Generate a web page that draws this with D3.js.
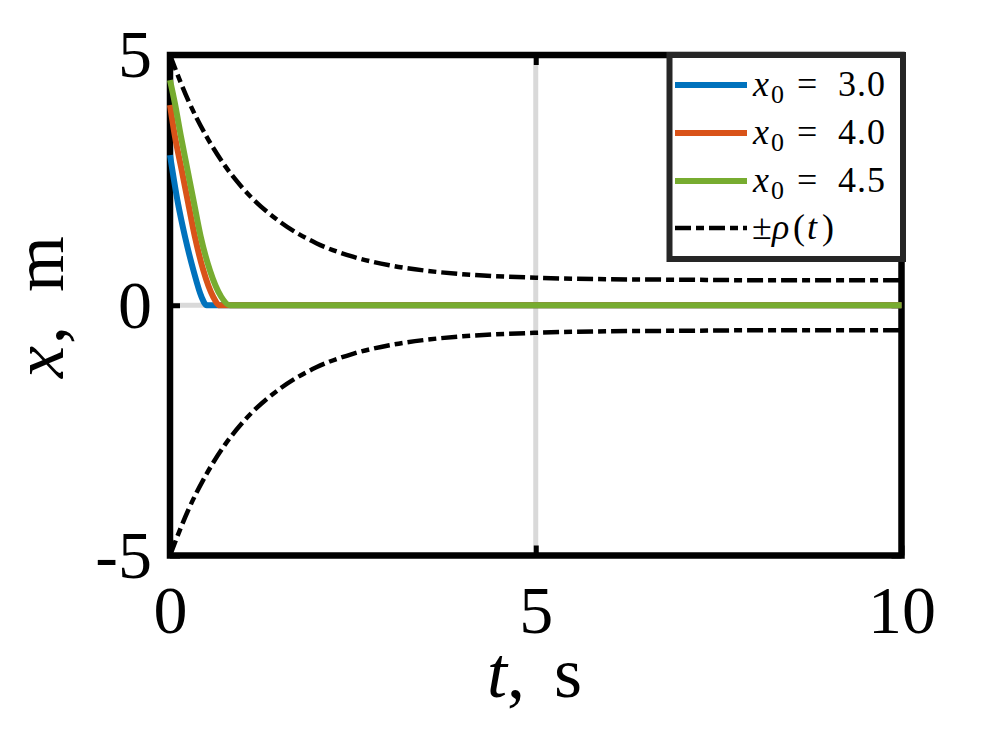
<!DOCTYPE html>
<html>
<head>
<meta charset="utf-8">
<script src="https://cdn.jsdelivr.net/npm/d3@7"></script>
<style>
  html, body { margin: 0; padding: 0; background: #fff; }
  svg { display: block; }
</style>
</head>
<body>
<svg id="chart" width="996" height="747"></svg>
<script>
// ---- data ----
const xTicks = [0, 5, 10];
const yTicks = [-5, 0, 5];
const yTickLabels = ["-5", "0", "5"];

const tBlue   = [0, 0.11, 0.205, 0.32, 0.43, 0.50, 10];
const xBlue   = [3.0, 2.03, 1.37, 0.70, 0.17, 0, 0];
const tOrange = [0, 0.068, 0.16, 0.25, 0.34, 0.455, 0.59, 0.68, 10];
const xOrange = [4.0, 3.37, 2.70, 2.03, 1.37, 0.70, 0.17, 0, 0];
const tGreen  = [0, 0.068, 0.15, 0.24, 0.33, 0.42, 0.545, 0.70, 0.82, 10];
const xGreen  = [4.5, 4.03, 3.37, 2.70, 2.03, 1.37, 0.70, 0.17, 0, 0];

const tRho   = [0, 0.25, 0.5, 0.75, 1, 1.5, 2, 2.5, 3, 3.5, 4, 5, 6, 7, 8, 10];
const rhoVal = [5, 4.09, 3.37, 2.79, 2.33, 1.67, 1.24, 0.97, 0.80, 0.69, 0.62, 0.55, 0.52, 0.51, 0.50, 0.50];

const seriesValues = ["3.0", "4.0", "4.5"];
const seriesColors = ["#0072BD", "#D95319", "#77AC30"];

// ---- layout ----
const svg = d3.select("#chart");
const L = 170, R = 901.5, T = 55, B = 555.5;
const x = d3.scaleLinear().domain([0, 10]).range([L, R]);
const y = d3.scaleLinear().domain([-5, 5]).range([B, T]);
const serif = "'Liberation Serif', 'DejaVu Serif', serif";
const tickFont = 68;

// grid
const gGrid = svg.append("g").attr("stroke", "#d9d9d9").attr("stroke-width", 5);
gGrid.append("line").attr("x1", x(5)).attr("x2", x(5)).attr("y1", T).attr("y2", B);
gGrid.append("line").attr("x1", L).attr("x2", R).attr("y1", y(0)).attr("y2", y(0));

// frame
svg.append("rect").attr("x", L).attr("y", T).attr("width", R - L).attr("height", B - T)
  .attr("fill", "none").attr("stroke", "#000").attr("stroke-width", 6.5);

// axes
function styleAxis(g, showLabels) {
  g.select(".domain").remove();
  g.selectAll(".tick line").attr("stroke", "#000").attr("stroke-width", 5);
  g.selectAll(".tick text").attr("font-family", serif).attr("font-size", tickFont).attr("fill", "#000");
  if (!showLabels) g.selectAll(".tick text").remove();
}
svg.append("g").attr("transform", `translate(0,${B})`)
  .call(d3.axisBottom(x).tickValues(xTicks).tickSize(-10).tickPadding(29).tickFormat(d3.format("d")))
  .call(g => styleAxis(g, true));
svg.append("g").attr("transform", `translate(0,${T})`)
  .call(d3.axisTop(x).tickValues(xTicks).tickSize(-10))
  .call(g => styleAxis(g, false));
svg.append("g").attr("transform", `translate(${L},0)`)
  .call(d3.axisLeft(y).tickValues(yTicks).tickSize(-10).tickPadding(18).tickFormat((d, i) => yTickLabels[i]))
  .call(g => styleAxis(g, true));
svg.append("g").attr("transform", `translate(${R},0)`)
  .call(d3.axisRight(y).tickValues(yTicks).tickSize(-10))
  .call(g => styleAxis(g, false));

// axis labels
const labFont = 72;
const xl = svg.append("text").attr("y", 697).attr("font-family", serif).attr("font-size", labFont);
xl.append("tspan").attr("x", 487).attr("font-style", "italic").text("t");
xl.append("tspan").text(",");
xl.append("tspan").attr("x", 554).text("s");
const yl = svg.append("text").attr("transform", "translate(63,305) rotate(-90)")
  .attr("font-family", serif).attr("font-size", labFont);
yl.append("tspan").attr("x", -73).attr("font-style", "italic").text("x");
yl.append("tspan").attr("dx", 2).text(",");
yl.append("tspan").attr("x", 13).text("m");

// lines
const line = d3.line().x(d => x(d[0])).y(d => y(d[1])).curve(d3.curveMonotoneX);
const dashPattern = "16,5,8,5";
const rhoUp = tRho.map((t, i) => [t, rhoVal[i]]);
const rhoDn = tRho.map((t, i) => [t, -rhoVal[i]]);
[rhoUp, rhoDn].forEach(d => {
  svg.append("path").attr("d", line(d)).attr("fill", "none").attr("stroke", "#000")
    .attr("stroke-width", 4.5).attr("stroke-dasharray", dashPattern);
});
const series = [
  tBlue.map((t, i) => [t, xBlue[i]]),
  tOrange.map((t, i) => [t, xOrange[i]]),
  tGreen.map((t, i) => [t, xGreen[i]])
];
series.forEach((d, i) => {
  svg.append("path").attr("d", line(d)).attr("fill", "none").attr("stroke", seriesColors[i])
    .attr("stroke-width", 6).attr("stroke-linejoin", "round");
});

// legend
const lg = svg.append("g");
lg.append("rect").attr("x", 669.5).attr("y", 55).attr("width", 233.5).attr("height", 204)
  .attr("fill", "#fff").attr("stroke", "#262626").attr("stroke-width", 6);
const rowY = [85, 133, 181, 228];
const legFont = 36;
seriesValues.forEach((v, i) => {
  lg.append("line").attr("x1", 675).attr("x2", 747).attr("y1", rowY[i]).attr("y2", rowY[i])
    .attr("stroke", seriesColors[i]).attr("stroke-width", 6);
  const t = lg.append("text").attr("y", rowY[i] + 11)
    .attr("font-family", serif).attr("font-size", legFont);
  t.append("tspan").attr("x", 753).attr("font-style", "italic").text("x");
  t.append("tspan").attr("x", 771).attr("font-size", legFont * 0.72).attr("dy", 7).text("0");
  t.append("tspan").attr("x", 797).attr("dy", -7).text("=");
  t.append("tspan").attr("x", 838).attr("letter-spacing", 1).text(v);
});
lg.append("line").attr("x1", 675).attr("x2", 747).attr("y1", rowY[3]).attr("y2", rowY[3])
  .attr("stroke", "#000").attr("stroke-width", 4.5).attr("stroke-dasharray", dashPattern);
const rt = lg.append("text").attr("y", rowY[3] + 11)
  .attr("font-family", serif).attr("font-size", legFont);
rt.append("tspan").attr("x", 752).text("±");
rt.append("tspan").attr("x", 772).attr("font-style", "italic").text("ρ");
rt.append("tspan").attr("x", 793).text("(");
rt.append("tspan").attr("x", 807).attr("font-style", "italic").text("t");
rt.append("tspan").attr("x", 822).text(")");
</script>
</body>
</html>
